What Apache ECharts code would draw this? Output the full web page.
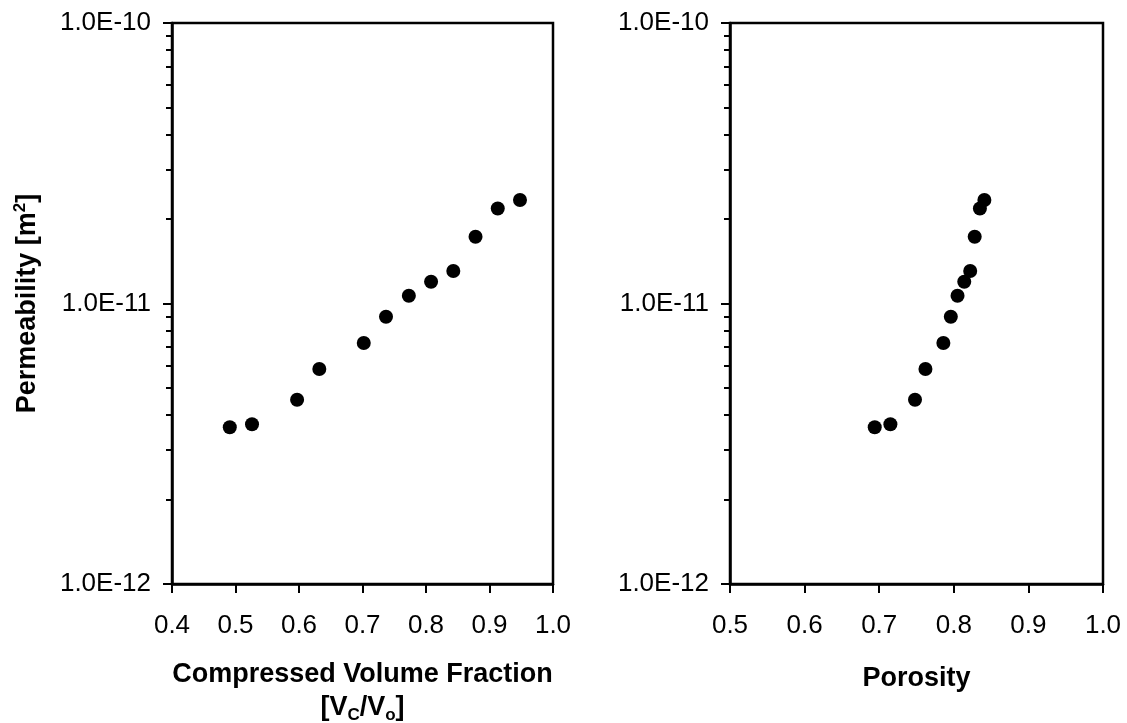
<!DOCTYPE html>
<html>
<head>
<meta charset="utf-8">
<script src="https://cdn.jsdelivr.net/npm/echarts@6/dist/echarts.min.js"></script>
<style>
html,body{margin:0;padding:0;background:#fff;}
#chart{width:1127px;height:723px;}
</style>
</head>
<body>
<div id="chart"></div>
<script>
// Data
var volumeFraction = [0.491, 0.526, 0.597, 0.632, 0.702, 0.737, 0.773, 0.808, 0.843, 0.878, 0.913, 0.948];
var porosity       = [0.694, 0.715, 0.748, 0.762, 0.786, 0.796, 0.805, 0.814, 0.822, 0.828, 0.835, 0.841];
var permeability   = [3.62e-12, 3.71e-12, 4.54e-12, 5.84e-12, 7.23e-12, 8.97e-12, 1.066e-11, 1.196e-11, 1.306e-11, 1.73e-11, 2.18e-11, 2.34e-11];

var leftXTicks  = [0.4, 1.0];   // min, max
var rightXTicks = [0.5, 1.0];   // min, max
var yRange = [1e-12, 1e-10];
var yDecades = [-12, -11];      // decades with minor ticks 2..9

var minorTickExps = [];
yDecades.forEach(function (e) {
  for (var k = 2; k <= 9; k++) minorTickExps.push(e + Math.log10(k));
});

var FONT = "'Liberation Sans', Arial, sans-serif";

function pairs(xs, ys) { return xs.map(function (x, i) { return [x, ys[i]]; }); }

var chart = echarts.init(document.getElementById('chart'), null, {renderer: 'canvas'});

var axisLineStyle = {color: '#000', width: 2.5};
var tickStyle = {color: '#000', width: 2};

function makeX(gridIndex, range, name, nameGap, rich) {
  return {
    type: 'value', gridIndex: gridIndex, min: range[0], max: range[1], interval: 0.1,
    axisLine: {show: true, onZero: false, lineStyle: axisLineStyle},
    axisTick: {show: true, length: 9, lineStyle: tickStyle},
    splitLine: {show: false},
    axisLabel: {color: '#000', fontSize: 26, fontFamily: FONT, margin: 29,
      formatter: function (v) { return v.toFixed(1); }},
    name: name, nameLocation: 'middle', nameGap: nameGap,
    nameTextStyle: {color: '#000', fontSize: 27, fontWeight: 'bold', fontFamily: FONT, lineHeight: 33, rich: rich}
  };
}

function makeYLog(gridIndex, name, rich) {
  return {
    type: 'log', gridIndex: gridIndex, min: yRange[0], max: yRange[1], logBase: 10, splitNumber: 2,
    axisLine: {show: true, lineStyle: axisLineStyle},
    axisTick: {show: true, length: 9, lineStyle: tickStyle},
    minorTick: {show: false},
    splitLine: {show: false},
    axisLabel: {color: '#000', fontSize: 26, fontFamily: FONT, margin: 21,
      formatter: function (v) { return '1.0E' + Math.round(Math.log10(v)); }},
    name: name, nameLocation: 'middle', nameGap: 128,
    nameTextStyle: {color: '#000', fontSize: 27, fontWeight: 'bold', fontFamily: FONT, rich: rich}
  };
}

function makeYMinor(gridIndex) {
  return {
    type: 'value', gridIndex: gridIndex, min: Math.log10(yRange[0]), max: Math.log10(yRange[1]),
    position: 'left',
    axisLine: {show: false},
    axisLabel: {show: false},
    splitLine: {show: false},
    axisTick: {show: true, length: 6, lineStyle: tickStyle, customValues: minorTickExps}
  };
}

var subRich = {
  b: {fontSize: 27, fontWeight: 'bold', fontFamily: FONT, color: '#000', lineHeight: 33},
  s: {fontSize: 17, fontWeight: 'bold', fontFamily: FONT, color: '#000', lineHeight: 17, verticalAlign: 'bottom'}
};
var supRich = {
  b: {fontSize: 27, fontWeight: 'bold', fontFamily: FONT, color: '#000', lineHeight: 32},
  p: {fontSize: 17, fontWeight: 'bold', fontFamily: FONT, color: '#000', lineHeight: 17, verticalAlign: 'top'}
};

var option = {
  animation: false,
  backgroundColor: '#fff',
  grid: [
    {left: 172, top: 23, width: 381, height: 561, show: true, borderColor: '#000', borderWidth: 2.5,
      backgroundColor: 'transparent', containLabel: false, outerBoundsMode: 'none'},
    {left: 730, top: 23, width: 373, height: 561, show: true, borderColor: '#000', borderWidth: 2.5,
      backgroundColor: 'transparent', containLabel: false, outerBoundsMode: 'none'}
  ],
  xAxis: [
    makeX(0, leftXTicks, '{b|Compressed Volume Fraction}\n{b|[V}{s|C}{b|/V}{s|o}{b|]}', 74, subRich),
    makeX(1, rightXTicks, 'Porosity', 78, null)
  ],
  yAxis: [
    makeYLog(0, '{b|Permeability [m}{p|2}{b|]}', supRich),
    makeYLog(1, '', null),
    makeYMinor(0),
    makeYMinor(1)
  ],
  series: [
    {type: 'scatter', xAxisIndex: 0, yAxisIndex: 0, symbol: 'circle', symbolSize: 14,
      itemStyle: {color: '#000', opacity: 1}, data: pairs(volumeFraction, permeability)},
    {type: 'scatter', xAxisIndex: 1, yAxisIndex: 1, symbol: 'circle', symbolSize: 14,
      itemStyle: {color: '#000', opacity: 1}, data: pairs(porosity, permeability)}
  ]
};
chart.setOption(option);
</script>
</body>
</html>
